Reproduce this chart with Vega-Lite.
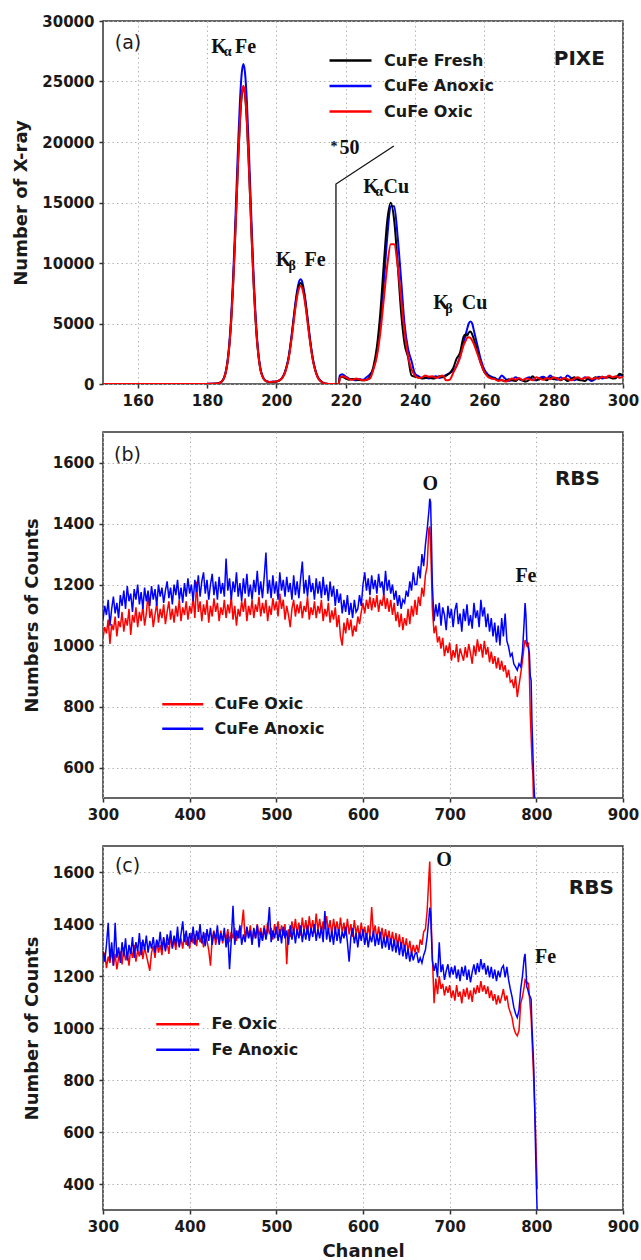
{
"$schema": "https://vega.github.io/schema/vega-lite/v6.json",
"background": "white",
"padding": {"left": 12, "top": 13, "right": 5, "bottom": 5},
"spacing": 48,
"bounds": "flush",
"config": {
  "font": "DejaVu Sans",
  "view": {"stroke": "#333", "strokeWidth": 1.5},
  "axis": {
    "labelFont": "DejaVu Sans", "labelFontWeight": "bold", "labelFontSize": 15, "labelColor": "#1a1a1a",
    "titleFont": "DejaVu Sans", "titleFontWeight": "bold", "titleFontSize": 18, "titleColor": "#1a1a1a",
    "domain": false, "tickSize": 4, "tickColor": "#333", "tickWidth": 1.5,
    "labelPadding": 5, "labelOverlap": false, "labelFlush": false,
    "grid": true, "gridColor": "#b5b5b5", "gridDash": [1.5, 3], "gridWidth": 1,
    "titlePadding": 11
  },
  "axisX": {"labelPadding": 5, "titlePadding": 8},
  "legend": {
    "labelFont": "DejaVu Sans", "labelFontWeight": "bold", "labelFontSize": 16, "labelColor": "#1a1a1a",
    "symbolStrokeWidth": 2.5, "padding": 0, "symbolType": "M-2,0H2"
  }
},
"resolve": {"scale": {"x": "independent", "y": "independent", "color": "independent"}, "legend": {"color": "independent"}},
"vconcat": [
{
  "width": 520, "height": 363,
  "encoding": {
    "x": {"field": "c", "type": "quantitative", "title": null, "scale": {"domain": [150, 300], "nice": false, "zero": false}, "axis": {"values": [160, 180, 200, 220, 240, 260, 280, 300], "format": "d"}},
    "y": {"field": "count", "type": "quantitative", "title": "Number of X-ray", "scale": {"domain": [0, 30000], "nice": false}, "axis": {"values": [0, 5000, 10000, 15000, 20000, 25000, 30000], "format": "d"}}
  },
  "layer": [
    {
      "data": {"values": [
{"c":150,"A":0,"F":0,"O":0},
{"c":160,"A":0,"F":0,"O":0},
{"c":170,"A":0,"F":0,"O":0},
{"c":176,"A":0,"F":0,"O":0},
{"c":180,"A":10,"F":10,"O":10},
{"c":182,"A":25,"F":30,"O":25},
{"c":183,"A":45,"F":42,"O":42},
{"c":183.5,"A":80,"F":74,"O":75},
{"c":184,"A":150,"F":140,"O":140},
{"c":184.5,"A":305,"F":282,"O":285},
{"c":185,"A":600,"F":560,"O":560},
{"c":185.5,"A":1160,"F":1080,"O":1080},
{"c":186,"A":2105,"F":1955,"O":1960},
{"c":186.5,"A":3580,"F":3320,"O":3335},
{"c":187,"A":5720,"F":5310,"O":5330},
{"c":187.5,"A":8590,"F":7970,"O":8005},
{"c":188,"A":12110,"F":11240,"O":11285},
{"c":188.5,"A":16040,"F":14890,"O":14950},
{"c":189,"A":19960,"F":18530,"O":18610},
{"c":189.5,"A":23340,"F":21660,"O":21750},
{"c":190,"A":25630,"F":23790,"O":23890},
{"c":190.5,"A":26450,"F":24550,"O":24650},
{"c":191,"A":25630,"F":23790,"O":23890},
{"c":191.5,"A":23340,"F":21660,"O":21750},
{"c":192,"A":19960,"F":18530,"O":18610},
{"c":192.5,"A":16040,"F":14890,"O":14950},
{"c":193,"A":12110,"F":11240,"O":11285},
{"c":193.5,"A":8590,"F":7970,"O":8005},
{"c":194,"A":5720,"F":5310,"O":5330},
{"c":194.5,"A":3580,"F":3320,"O":3335},
{"c":195,"A":2105,"F":1955,"O":1960},
{"c":195.5,"A":1160,"F":1080,"O":1080},
{"c":196,"A":680,"F":640,"O":640},
{"c":196.5,"A":395,"F":372,"O":375},
{"c":197,"A":255,"F":245,"O":245},
{"c":197.5,"A":200,"F":194,"O":195},
{"c":198,"A":175,"F":172,"O":172},
{"c":198.5,"A":178,"F":175,"O":175},
{"c":199,"A":185,"F":180,"O":180},
{"c":199.5,"A":195,"F":190,"O":190},
{"c":200,"A":214,"F":213,"O":212},
{"c":200.5,"A":252,"F":249,"O":247},
{"c":201,"A":326,"F":321,"O":317},
{"c":201.5,"A":450,"F":440,"O":432},
{"c":202,"A":670,"F":650,"O":635},
{"c":202.5,"A":1000,"F":970,"O":945},
{"c":203,"A":1510,"F":1460,"O":1420},
{"c":203.5,"A":2155,"F":2080,"O":2015},
{"c":204,"A":3115,"F":3005,"O":2915},
{"c":204.5,"A":4255,"F":4110,"O":3985},
{"c":205,"A":5490,"F":5300,"O":5145},
{"c":205.5,"A":6700,"F":6470,"O":6280},
{"c":206,"A":7720,"F":7455,"O":7235},
{"c":206.5,"A":8410,"F":8115,"O":7870},
{"c":207,"A":8650,"F":8350,"O":8100},
{"c":207.5,"A":8410,"F":8115,"O":7870},
{"c":208,"A":7720,"F":7455,"O":7235},
{"c":208.5,"A":6700,"F":6470,"O":6280},
{"c":209,"A":5490,"F":5300,"O":5145},
{"c":209.5,"A":4255,"F":4110,"O":3985},
{"c":210,"A":3115,"F":3005,"O":2915},
{"c":210.5,"A":2155,"F":2080,"O":2015},
{"c":211,"A":1450,"F":1400,"O":1360},
{"c":211.5,"A":920,"F":890,"O":860},
{"c":212,"A":560,"F":540,"O":520},
{"c":212.5,"A":340,"F":330,"O":320},
{"c":213,"A":200,"F":195,"O":190},
{"c":213.5,"A":95,"F":90,"O":87},
{"c":214,"A":45,"F":43,"O":40},
{"c":214.5,"A":20,"F":18,"O":18},
{"c":215,"A":9,"F":8,"O":8},
{"c":216,"A":2,"F":2,"O":2},
{"c":217,"A":0,"F":0,"O":0},
{"c":218,"A":0,"F":0,"O":0},
{"c":218.3,"A":700,"F":550,"O":450},
{"c":219,"A":800,"F":600,"O":650},
{"c":220,"A":620,"F":450,"O":550},
{"c":221,"A":450,"F":350,"O":400},
{"c":222,"A":380,"F":420,"O":350},
{"c":223,"A":300,"F":380,"O":450},
{"c":224,"A":420,"F":330,"O":380},
{"c":225,"A":350,"F":300,"O":300},
{"c":226,"A":550,"F":320,"O":350},
{"c":227,"A":800,"F":600,"O":450},
{"c":228,"A":1260,"F":1430,"O":1200},
{"c":229,"A":2510,"F":3060,"O":2280},
{"c":230,"A":4930,"F":5910,"O":4250},
{"c":231,"A":8340,"F":9910,"O":7010},
{"c":232,"A":12160,"F":13500,"O":9780},
{"c":233,"A":14700,"F":14970,"O":11555},
{"c":234,"A":14700,"F":13500,"O":11555},
{"c":235,"A":12160,"F":9910,"O":9780},
{"c":236,"A":8600,"F":5900,"O":7010},
{"c":237,"A":4900,"F":3300,"O":4250},
{"c":238,"A":2900,"F":2200,"O":2300},
{"c":239,"A":1900,"F":700,"O":1200},
{"c":240,"A":850,"F":600,"O":700},
{"c":241,"A":650,"F":550,"O":500},
{"c":242,"A":500,"F":450,"O":550},
{"c":243,"A":550,"F":500,"O":700},
{"c":244,"A":450,"F":550,"O":600},
{"c":245,"A":550,"F":450,"O":650},
{"c":246,"A":650,"F":500,"O":500},
{"c":247,"A":500,"F":650,"O":600},
{"c":248,"A":600,"F":550,"O":700},
{"c":249,"A":750,"F":700,"O":300},
{"c":250,"A":900,"F":900,"O":350},
{"c":251,"A":1100,"F":1300,"O":900},
{"c":252,"A":1500,"F":2100,"O":1500},
{"c":253,"A":2300,"F":2600,"O":2200},
{"c":254,"A":3400,"F":3900,"O":3200},
{"c":254.5,"A":3950,"F":4100,"O":3500},
{"c":255,"A":4500,"F":4000,"O":3800},
{"c":255.5,"A":5000,"F":4250,"O":3870},
{"c":256,"A":5170,"F":4340,"O":3800},
{"c":256.5,"A":5000,"F":4100,"O":3600},
{"c":257,"A":4400,"F":3700,"O":3300},
{"c":258,"A":3200,"F":2700,"O":2500},
{"c":259,"A":2000,"F":1700,"O":1700},
{"c":260,"A":1200,"F":1000,"O":1000},
{"c":261,"A":800,"F":700,"O":600},
{"c":262,"A":600,"F":500,"O":450},
{"c":263,"A":500,"F":450,"O":400},
{"c":264,"A":350,"F":300,"O":250},
{"c":265,"A":700,"F":300,"O":350},
{"c":266,"A":450,"F":250,"O":200},
{"c":267,"A":250,"F":400,"O":300},
{"c":268,"A":350,"F":300,"O":450},
{"c":269,"A":550,"F":250,"O":350},
{"c":270,"A":400,"F":450,"O":500},
{"c":271,"A":300,"F":300,"O":300},
{"c":272,"A":450,"F":200,"O":450},
{"c":273,"A":550,"F":350,"O":400},
{"c":274,"A":350,"F":650,"O":300},
{"c":275,"A":300,"F":300,"O":550},
{"c":276,"A":500,"F":400,"O":450},
{"c":277,"A":600,"F":450,"O":350},
{"c":278,"A":450,"F":300,"O":500},
{"c":279,"A":700,"F":500,"O":400},
{"c":280,"A":450,"F":400,"O":550},
{"c":281,"A":350,"F":500,"O":450},
{"c":282,"A":550,"F":300,"O":350},
{"c":283,"A":400,"F":450,"O":500},
{"c":284,"A":700,"F":250,"O":400},
{"c":285,"A":500,"F":400,"O":300},
{"c":286,"A":300,"F":550,"O":450},
{"c":287,"A":450,"F":350,"O":550},
{"c":288,"A":350,"F":300,"O":400},
{"c":289,"A":550,"F":250,"O":500},
{"c":290,"A":400,"F":450,"O":550},
{"c":291,"A":250,"F":350,"O":400},
{"c":292,"A":400,"F":550,"O":500},
{"c":293,"A":600,"F":450,"O":450},
{"c":294,"A":450,"F":600,"O":600},
{"c":295,"A":550,"F":500,"O":500},
{"c":296,"A":650,"F":550,"O":700},
{"c":297,"A":500,"F":450,"O":550},
{"c":298,"A":600,"F":500,"O":650},
{"c":299,"A":700,"F":850,"O":500},
{"c":300,"A":750,"F":700,"O":600}
      ]},
      "transform": [{"fold": ["A", "F", "O"], "as": ["series", "count"]}],
      "mark": {"type": "line", "strokeWidth": 2, "interpolate": "monotone", "clip": true},
      "encoding": {
        "color": {"field": "series", "type": "nominal", "title": null,
          "scale": {"domain": ["F", "A", "O"], "range": ["#000000", "#0000ff", "#ff0000"]},
          "legend": {"orient": "none", "legendX": 235.5, "legendY": 27.5, "symbolSize": 441, "labelOffset": 21.5, "rowPadding": 5.5,
            "labelExpr": "datum.label == 'F' ? 'CuFe Fresh' : datum.label == 'A' ? 'CuFe Anoxic' : 'CuFe Oxic'"}}
      }
    },
    {
      "data": {"values": [{"c": 217.2, "count": 0}, {"c": 217.2, "count": 16530}, {"c": 233.9, "count": 19670}]},
      "mark": {"type": "line", "color": "#111111", "strokeWidth": 1.3},
      "encoding": {"order": {"value": null}}
    },
    {
      "data": {"values": [
        {"c": 181.2, "count": 27380, "t": "K"}, {"c": 188.1, "count": 27380, "t": "Fe"},
        {"c": 199.8, "count": 9752, "t": "K"}, {"c": 208.1, "count": 9752, "t": "Fe"},
        {"c": 225.1, "count": 15810, "t": "K"}, {"c": 230.9, "count": 15810, "t": "Cu"},
        {"c": 245.3, "count": 6174, "t": "K"}, {"c": 253.5, "count": 6174, "t": "Cu"},
        {"c": 218.2, "count": 19033, "t": "50"}
      ]},
      "mark": {"type": "text", "font": "Liberation Serif", "fontWeight": "bold", "fontSize": 20, "align": "left", "baseline": "alphabetic", "color": "#111111"},
      "encoding": {"text": {"field": "t"}}
    },
    {
      "data": {"values": [
        {"c": 184.8, "count": 27110, "t": "α"},
        {"c": 203.5, "count": 9421, "t": "β"},
        {"c": 228.5, "count": 15537, "t": "α"},
        {"c": 248.7, "count": 5868, "t": "β"},
        {"c": 215.6, "count": 19256, "t": "*"}
      ]},
      "mark": {"type": "text", "font": "Liberation Serif", "fontWeight": "bold", "fontSize": 14, "align": "left", "baseline": "alphabetic", "color": "#111111"},
      "encoding": {"text": {"field": "t"}}
    },
    {
      "data": {"values": [{"c": 157.2, "count": 28180, "t": "(a)"}]},
      "mark": {"type": "text", "font": "DejaVu Sans", "fontSize": 19, "align": "center", "baseline": "middle", "color": "#1a1a1a"},
      "encoding": {"text": {"field": "t"}}
    },
    {
      "data": {"values": [{"c": 287.4, "count": 26860, "t": "PIXE"}]},
      "mark": {"type": "text", "font": "DejaVu Sans", "fontWeight": "bold", "fontSize": 20, "align": "center", "baseline": "middle", "color": "#1a1a1a"},
      "encoding": {"text": {"field": "t"}}
    }
  ]
},
{
  "width": 520, "height": 366,
  "encoding": {
    "x": {"field": "c", "type": "quantitative", "title": null, "scale": {"domain": [300, 900], "nice": false, "zero": false}, "axis": {"values": [300, 400, 500, 600, 700, 800, 900], "format": "d"}},
    "y": {"field": "count", "type": "quantitative", "title": "Numbers of Counts", "scale": {"domain": [500, 1700], "nice": false, "zero": false}, "axis": {"values": [600, 800, 1000, 1200, 1400, 1600], "format": "d"}}
  },
  "layer": [
    {
      "data": {"values": [
{"c":300,"O":1025,"A":1085},{"c":302,"O":1060,"A":1130},{"c":304,"O":1040,"A":1100},{"c":306,"O":1085,"A":1150},
{"c":308,"O":1005,"A":1065},{"c":310,"O":1070,"A":1120},{"c":312,"O":1050,"A":1160},{"c":314,"O":1095,"A":1105},
{"c":316,"O":1030,"A":1140},{"c":318,"O":1080,"A":1090},{"c":320,"O":1060,"A":1165},{"c":322,"O":1110,"A":1130},
{"c":324,"O":1045,"A":1180},{"c":326,"O":1090,"A":1120},{"c":328,"O":1065,"A":1195},{"c":330,"O":1120,"A":1145},
{"c":332,"O":1035,"A":1170},{"c":334,"O":1100,"A":1110},{"c":336,"O":1075,"A":1185},{"c":338,"O":1125,"A":1150},
{"c":340,"O":1060,"A":1200},{"c":342,"O":1110,"A":1135},{"c":344,"O":1080,"A":1175},{"c":346,"O":1130,"A":1120},
{"c":348,"O":1065,"A":1190},{"c":350,"O":1105,"A":1145},{"c":352,"O":1170,"A":1180},{"c":354,"O":1090,"A":1130},
{"c":356,"O":1120,"A":1195},{"c":358,"O":1060,"A":1150},{"c":360,"O":1100,"A":1185},{"c":362,"O":1140,"A":1130},
{"c":364,"O":1075,"A":1200},{"c":366,"O":1120,"A":1160},{"c":368,"O":1090,"A":1190},{"c":370,"O":1135,"A":1140},
{"c":372,"O":1070,"A":1180},{"c":374,"O":1110,"A":1210},{"c":376,"O":1145,"A":1155},{"c":378,"O":1085,"A":1190},
{"c":380,"O":1120,"A":1135},{"c":382,"O":1075,"A":1200},{"c":384,"O":1130,"A":1165},{"c":386,"O":1095,"A":1215},
{"c":388,"O":1150,"A":1150},{"c":390,"O":1080,"A":1190},{"c":392,"O":1125,"A":1140},{"c":394,"O":1100,"A":1205},
{"c":396,"O":1145,"A":1160},{"c":398,"O":1085,"A":1220},{"c":400,"O":1130,"A":1170},{"c":402,"O":1105,"A":1200},
{"c":404,"O":1160,"A":1145},{"c":406,"O":1090,"A":1215},{"c":408,"O":1210,"A":1175},{"c":410,"O":1110,"A":1230},
{"c":412,"O":1145,"A":1160},{"c":414,"O":1080,"A":1210},{"c":416,"O":1135,"A":1240},{"c":418,"O":1100,"A":1170},
{"c":420,"O":1150,"A":1215},{"c":422,"O":1075,"A":1150},{"c":424,"O":1130,"A":1200},{"c":426,"O":1095,"A":1235},
{"c":428,"O":1155,"A":1165},{"c":430,"O":1110,"A":1210},{"c":432,"O":1140,"A":1150},{"c":434,"O":1080,"A":1225},
{"c":436,"O":1125,"A":1170},{"c":438,"O":1100,"A":1205},{"c":440,"O":1150,"A":1160},{"c":442,"O":1090,"A":1285},
{"c":444,"O":1135,"A":1180},{"c":446,"O":1105,"A":1220},{"c":448,"O":1160,"A":1150},{"c":450,"O":1085,"A":1210},
{"c":452,"O":1130,"A":1175},{"c":454,"O":1065,"A":1240},{"c":456,"O":1120,"A":1160},{"c":458,"O":1095,"A":1205},
{"c":460,"O":1145,"A":1145},{"c":462,"O":1110,"A":1220},{"c":464,"O":1155,"A":1170},{"c":466,"O":1080,"A":1235},
{"c":468,"O":1130,"A":1160},{"c":470,"O":1100,"A":1200},{"c":472,"O":1150,"A":1150},{"c":474,"O":1090,"A":1215},
{"c":476,"O":1135,"A":1175},{"c":478,"O":1110,"A":1245},{"c":480,"O":1160,"A":1165},{"c":482,"O":1095,"A":1210},
{"c":484,"O":1140,"A":1155},{"c":486,"O":1105,"A":1225},{"c":488,"O":1150,"A":1305},{"c":490,"O":1080,"A":1170},
{"c":492,"O":1130,"A":1215},{"c":494,"O":1100,"A":1155},{"c":496,"O":1155,"A":1230},{"c":498,"O":1115,"A":1170},
{"c":500,"O":1145,"A":1210},{"c":502,"O":1095,"A":1150},{"c":504,"O":1170,"A":1240},{"c":506,"O":1120,"A":1180},
{"c":508,"O":1150,"A":1215},{"c":510,"O":1085,"A":1160},{"c":512,"O":1130,"A":1225},{"c":514,"O":1100,"A":1175},
{"c":516,"O":1060,"A":1205},{"c":518,"O":1120,"A":1150},{"c":520,"O":1150,"A":1230},{"c":522,"O":1095,"A":1165},
{"c":524,"O":1135,"A":1210},{"c":526,"O":1105,"A":1155},{"c":528,"O":1145,"A":1220},{"c":530,"O":1090,"A":1275},
{"c":532,"O":1130,"A":1170},{"c":534,"O":1110,"A":1215},{"c":536,"O":1160,"A":1160},{"c":538,"O":1085,"A":1230},
{"c":540,"O":1125,"A":1175},{"c":542,"O":1100,"A":1205},{"c":544,"O":1145,"A":1150},{"c":546,"O":1090,"A":1220},
{"c":548,"O":1130,"A":1170},{"c":550,"O":1105,"A":1210},{"c":552,"O":1150,"A":1155},{"c":554,"O":1080,"A":1225},
{"c":556,"O":1120,"A":1165},{"c":558,"O":1095,"A":1200},{"c":560,"O":1140,"A":1145},{"c":562,"O":1075,"A":1210},
{"c":564,"O":1115,"A":1160},{"c":566,"O":1085,"A":1195},{"c":568,"O":1125,"A":1130},{"c":570,"O":1060,"A":1185},
{"c":572,"O":1100,"A":1140},{"c":574,"O":1030,"A":1170},{"c":576,"O":1000,"A":1105},{"c":578,"O":1075,"A":1150},
{"c":580,"O":1040,"A":1110},{"c":582,"O":1090,"A":1165},{"c":584,"O":1050,"A":1100},{"c":586,"O":1085,"A":1140},
{"c":588,"O":1030,"A":1090},{"c":590,"O":1065,"A":1150},{"c":592,"O":1045,"A":1110},{"c":594,"O":1095,"A":1120},
{"c":596,"O":1070,"A":1165},{"c":598,"O":1110,"A":1130},{"c":600,"O":1140,"A":1200},{"c":602,"O":1105,"A":1240},
{"c":604,"O":1150,"A":1180},{"c":606,"O":1120,"A":1220},{"c":608,"O":1160,"A":1165},{"c":610,"O":1115,"A":1230},
{"c":612,"O":1155,"A":1185},{"c":614,"O":1125,"A":1215},{"c":616,"O":1165,"A":1170},{"c":618,"O":1110,"A":1235},
{"c":620,"O":1150,"A":1190},{"c":622,"O":1130,"A":1210},{"c":624,"O":1170,"A":1165},{"c":626,"O":1120,"A":1245},
{"c":628,"O":1155,"A":1180},{"c":630,"O":1110,"A":1215},{"c":632,"O":1150,"A":1170},{"c":634,"O":1100,"A":1200},
{"c":636,"O":1140,"A":1150},{"c":638,"O":1080,"A":1180},{"c":640,"O":1110,"A":1130},{"c":642,"O":1060,"A":1165},
{"c":644,"O":1105,"A":1120},{"c":646,"O":1050,"A":1150},{"c":648,"O":1090,"A":1140},{"c":650,"O":1065,"A":1180},
{"c":652,"O":1120,"A":1160},{"c":654,"O":1070,"A":1210},{"c":656,"O":1130,"A":1180},{"c":658,"O":1095,"A":1240},
{"c":660,"O":1150,"A":1200},{"c":662,"O":1100,"A":1200},{"c":664,"O":1160,"A":1260},{"c":666,"O":1130,"A":1220},
{"c":668,"O":1190,"A":1300},{"c":670,"O":1160,"A":1260},{"c":672,"O":1230,"A":1330},{"c":674,"O":1260,"A":1380},
{"c":676,"O":1382,"A":1440},{"c":677,"O":1390,"A":1481},{"c":678,"O":1330,"A":1470},{"c":679,"O":1230,"A":1350},
{"c":680,"O":1120,"A":1200},{"c":682,"O":1040,"A":1080},{"c":684,"O":1065,"A":1135},{"c":686,"O":1010,"A":1095},
{"c":688,"O":1030,"A":1140},{"c":690,"O":990,"A":1065},{"c":692,"O":1025,"A":1125},{"c":694,"O":965,"A":1100},
{"c":696,"O":1000,"A":1050},{"c":698,"O":975,"A":1130},{"c":700,"O":1010,"A":1090},{"c":702,"O":950,"A":1120},
{"c":704,"O":985,"A":1060},{"c":706,"O":960,"A":1115},{"c":708,"O":1005,"A":1140},{"c":710,"O":945,"A":1070},
{"c":712,"O":990,"A":1105},{"c":714,"O":970,"A":1045},{"c":716,"O":950,"A":1120},{"c":718,"O":995,"A":1080},
{"c":720,"O":960,"A":1135},{"c":722,"O":1005,"A":1065},{"c":724,"O":975,"A":1100},{"c":726,"O":940,"A":1055},
{"c":728,"O":1000,"A":1140},{"c":730,"O":965,"A":1090},{"c":732,"O":1020,"A":1115},{"c":734,"O":980,"A":1060},
{"c":736,"O":1005,"A":1150},{"c":738,"O":960,"A":1095},{"c":740,"O":1015,"A":1125},{"c":742,"O":970,"A":1060},
{"c":744,"O":995,"A":1105},{"c":746,"O":945,"A":1045},{"c":748,"O":980,"A":1090},{"c":750,"O":940,"A":1030},
{"c":752,"O":965,"A":1075},{"c":754,"O":925,"A":1010},{"c":756,"O":960,"A":1065},{"c":758,"O":920,"A":1000},
{"c":760,"O":950,"A":1090},{"c":762,"O":915,"A":1030},{"c":764,"O":935,"A":1105},{"c":766,"O":895,"A":1015},
{"c":768,"O":920,"A":995},{"c":770,"O":880,"A":965},{"c":772,"O":886,"A":974},{"c":774,"O":860,"A":940},
{"c":776,"O":900,"A":930},{"c":778,"O":831,"A":919},{"c":780,"O":870,"A":940},{"c":782,"O":908,"A":930},
{"c":784,"O":950,"A":980},{"c":786,"O":1000,"A":1080},{"c":787,"O":1018,"A":1139},{"c":788,"O":1010,"A":1100},
{"c":789,"O":1000,"A":1018},{"c":790,"O":1005,"A":1000},{"c":791,"O":1007,"A":990},{"c":792,"O":900,"A":974},
{"c":793,"O":776,"A":900},{"c":794,"O":700,"A":886},{"c":795,"O":620,"A":743},{"c":796,"O":577,"A":650},
{"c":797,"O":456,"A":560},{"c":798,"O":380,"A":500},{"c":799,"O":300,"A":420}
      ]},
      "transform": [{"fold": ["O", "A"], "as": ["series", "count"]}],
      "mark": {"type": "line", "strokeWidth": 1.5, "clip": true},
      "encoding": {
        "color": {"field": "series", "type": "nominal", "title": null,
          "scale": {"domain": ["O", "A"], "range": ["#ff0000", "#0000ff"]},
          "legend": {"orient": "none", "legendX": 68.25, "legendY": 260.7, "symbolSize": 420, "labelOffset": 20.25, "rowPadding": 4.5,
            "labelExpr": "datum.label == 'O' ? 'CuFe Oxic' : 'CuFe Anoxic'"}}
      }
    },
    {
      "data": {"values": [{"c": 677.5, "count": 1531, "t": "O"}, {"c": 788, "count": 1228, "t": "Fe"}]},
      "mark": {"type": "text", "font": "Liberation Serif", "fontWeight": "bold", "fontSize": 20, "align": "center", "baseline": "middle", "color": "#111111"},
      "encoding": {"text": {"field": "t"}}
    },
    {
      "data": {"values": [{"c": 328.3, "count": 1624, "t": "(b)"}]},
      "mark": {"type": "text", "font": "DejaVu Sans", "fontSize": 19, "align": "center", "baseline": "middle", "color": "#1a1a1a"},
      "encoding": {"text": {"field": "t"}}
    },
    {
      "data": {"values": [{"c": 847.5, "count": 1546, "t": "RBS"}]},
      "mark": {"type": "text", "font": "DejaVu Sans", "fontWeight": "bold", "fontSize": 20, "align": "center", "baseline": "middle", "color": "#1a1a1a"},
      "encoding": {"text": {"field": "t"}}
    }
  ]
},
{
  "width": 520, "height": 364,
  "encoding": {
    "x": {"field": "c", "type": "quantitative", "title": "Channel", "scale": {"domain": [300, 900], "nice": false, "zero": false}, "axis": {"values": [300, 400, 500, 600, 700, 800, 900], "format": "d"}},
    "y": {"field": "count", "type": "quantitative", "title": "Number of Counts", "scale": {"domain": [300, 1700], "nice": false, "zero": false}, "axis": {"values": [400, 600, 800, 1000, 1200, 1400, 1600], "format": "d"}}
  },
  "layer": [
    {
      "data": {"values": [
{"c":300,"O":1245,"A":1295},{"c":302,"O":1290,"A":1255},{"c":304,"O":1230,"A":1320},{"c":306,"O":1275,"A":1405},
{"c":308,"O":1250,"A":1260},{"c":310,"O":1300,"A":1330},{"c":312,"O":1240,"A":1240},{"c":314,"O":1285,"A":1405},
{"c":316,"O":1225,"A":1270},{"c":318,"O":1270,"A":1310},{"c":320,"O":1295,"A":1250},{"c":322,"O":1245,"A":1330},
{"c":324,"O":1310,"A":1275},{"c":326,"O":1260,"A":1345},{"c":328,"O":1290,"A":1260},{"c":330,"O":1240,"A":1320},
{"c":332,"O":1305,"A":1285},{"c":334,"O":1270,"A":1350},{"c":336,"O":1320,"A":1270},{"c":338,"O":1255,"A":1330},
{"c":340,"O":1300,"A":1295},{"c":342,"O":1275,"A":1365},{"c":344,"O":1330,"A":1280},{"c":346,"O":1265,"A":1340},
{"c":348,"O":1310,"A":1300},{"c":350,"O":1280,"A":1355},{"c":352,"O":1250,"A":1290},{"c":354,"O":1220,"A":1335},
{"c":356,"O":1290,"A":1305},{"c":358,"O":1315,"A":1350},{"c":360,"O":1270,"A":1290},{"c":362,"O":1335,"A":1340},
{"c":364,"O":1290,"A":1310},{"c":366,"O":1320,"A":1370},{"c":368,"O":1280,"A":1300},{"c":370,"O":1345,"A":1350},
{"c":372,"O":1300,"A":1295},{"c":374,"O":1330,"A":1360},{"c":376,"O":1285,"A":1320},{"c":378,"O":1350,"A":1375},
{"c":380,"O":1310,"A":1305},{"c":382,"O":1340,"A":1355},{"c":384,"O":1300,"A":1320},{"c":386,"O":1355,"A":1390},
{"c":388,"O":1315,"A":1310},{"c":390,"O":1345,"A":1360},{"c":392,"O":1305,"A":1410},{"c":394,"O":1360,"A":1330},
{"c":396,"O":1320,"A":1375},{"c":398,"O":1350,"A":1315},{"c":400,"O":1305,"A":1365},{"c":402,"O":1365,"A":1330},
{"c":404,"O":1325,"A":1390},{"c":406,"O":1360,"A":1320},{"c":408,"O":1315,"A":1375},{"c":410,"O":1370,"A":1340},
{"c":412,"O":1330,"A":1400},{"c":414,"O":1355,"A":1325},{"c":416,"O":1310,"A":1370},{"c":418,"O":1365,"A":1315},
{"c":420,"O":1335,"A":1380},{"c":422,"O":1300,"A":1335},{"c":424,"O":1240,"A":1385},{"c":426,"O":1345,"A":1320},
{"c":428,"O":1375,"A":1370},{"c":430,"O":1320,"A":1340},{"c":432,"O":1360,"A":1395},{"c":434,"O":1330,"A":1320},
{"c":436,"O":1375,"A":1365},{"c":438,"O":1325,"A":1335},{"c":440,"O":1365,"A":1385},{"c":442,"O":1340,"A":1310},
{"c":444,"O":1380,"A":1360},{"c":446,"O":1330,"A":1226},{"c":448,"O":1370,"A":1340},{"c":450,"O":1345,"A":1470},
{"c":452,"O":1385,"A":1320},{"c":454,"O":1335,"A":1375},{"c":456,"O":1375,"A":1345},{"c":458,"O":1345,"A":1395},
{"c":460,"O":1390,"A":1320},{"c":462,"O":1455,"A":1360},{"c":464,"O":1340,"A":1330},{"c":466,"O":1385,"A":1390},
{"c":468,"O":1350,"A":1345},{"c":470,"O":1395,"A":1375},{"c":472,"O":1330,"A":1320},{"c":474,"O":1380,"A":1385},
{"c":476,"O":1345,"A":1345},{"c":478,"O":1400,"A":1395},{"c":480,"O":1355,"A":1310},{"c":482,"O":1385,"A":1370},
{"c":484,"O":1340,"A":1335},{"c":486,"O":1395,"A":1385},{"c":488,"O":1350,"A":1340},{"c":490,"O":1405,"A":1380},
{"c":492,"O":1360,"A":1465},{"c":494,"O":1385,"A":1330},{"c":496,"O":1340,"A":1375},{"c":498,"O":1400,"A":1345},
{"c":500,"O":1360,"A":1390},{"c":502,"O":1410,"A":1335},{"c":504,"O":1350,"A":1380},{"c":506,"O":1395,"A":1325},
{"c":508,"O":1355,"A":1390},{"c":510,"O":1400,"A":1345},{"c":512,"O":1245,"A":1375},{"c":514,"O":1380,"A":1320},
{"c":516,"O":1350,"A":1395},{"c":518,"O":1410,"A":1340},{"c":520,"O":1365,"A":1385},{"c":522,"O":1420,"A":1325},
{"c":524,"O":1360,"A":1380},{"c":526,"O":1405,"A":1345},{"c":528,"O":1355,"A":1395},{"c":530,"O":1425,"A":1330},
{"c":532,"O":1370,"A":1380},{"c":534,"O":1415,"A":1340},{"c":536,"O":1360,"A":1395},{"c":538,"O":1430,"A":1335},
{"c":540,"O":1370,"A":1385},{"c":542,"O":1415,"A":1350},{"c":544,"O":1365,"A":1400},{"c":546,"O":1440,"A":1335},
{"c":548,"O":1375,"A":1380},{"c":550,"O":1420,"A":1345},{"c":552,"O":1365,"A":1390},{"c":554,"O":1410,"A":1330},
{"c":556,"O":1380,"A":1450},{"c":558,"O":1430,"A":1340},{"c":560,"O":1370,"A":1385},{"c":562,"O":1415,"A":1330},
{"c":564,"O":1360,"A":1375},{"c":566,"O":1420,"A":1320},{"c":568,"O":1375,"A":1390},{"c":570,"O":1410,"A":1335},
{"c":572,"O":1360,"A":1380},{"c":574,"O":1425,"A":1325},{"c":576,"O":1365,"A":1370},{"c":578,"O":1405,"A":1345},
{"c":580,"O":1355,"A":1390},{"c":582,"O":1420,"A":1330},{"c":584,"O":1360,"A":1255},{"c":586,"O":1400,"A":1350},
{"c":588,"O":1350,"A":1385},{"c":590,"O":1415,"A":1325},{"c":592,"O":1360,"A":1365},{"c":594,"O":1395,"A":1310},
{"c":596,"O":1345,"A":1370},{"c":598,"O":1405,"A":1335},{"c":600,"O":1355,"A":1380},{"c":602,"O":1390,"A":1320},
{"c":604,"O":1340,"A":1365},{"c":606,"O":1395,"A":1310},{"c":608,"O":1350,"A":1355},{"c":610,"O":1465,"A":1330},
{"c":612,"O":1360,"A":1375},{"c":614,"O":1395,"A":1315},{"c":616,"O":1340,"A":1360},{"c":618,"O":1390,"A":1320},
{"c":620,"O":1345,"A":1370},{"c":622,"O":1385,"A":1305},{"c":624,"O":1335,"A":1350},{"c":626,"O":1380,"A":1310},
{"c":628,"O":1330,"A":1355},{"c":630,"O":1375,"A":1300},{"c":632,"O":1325,"A":1345},{"c":634,"O":1370,"A":1295},
{"c":636,"O":1320,"A":1340},{"c":638,"O":1365,"A":1290},{"c":640,"O":1315,"A":1335},{"c":642,"O":1360,"A":1280},
{"c":644,"O":1305,"A":1330},{"c":646,"O":1350,"A":1275},{"c":648,"O":1300,"A":1320},{"c":650,"O":1345,"A":1265},
{"c":652,"O":1295,"A":1305},{"c":654,"O":1335,"A":1255},{"c":656,"O":1285,"A":1295},{"c":658,"O":1320,"A":1260},
{"c":660,"O":1290,"A":1285},{"c":662,"O":1320,"A":1290},{"c":664,"O":1290,"A":1250},{"c":666,"O":1340,"A":1270},
{"c":668,"O":1320,"A":1250},{"c":670,"O":1370,"A":1280},{"c":672,"O":1380,"A":1300},{"c":674,"O":1450,"A":1350},
{"c":676,"O":1580,"A":1420},{"c":677,"O":1640,"A":1463},{"c":678,"O":1520,"A":1440},{"c":679,"O":1380,"A":1350},
{"c":680,"O":1280,"A":1260},{"c":682,"O":1095,"A":1220},{"c":684,"O":1190,"A":1250},{"c":686,"O":1130,"A":1195},
{"c":688,"O":1200,"A":1330},{"c":690,"O":1150,"A":1215},{"c":692,"O":1170,"A":1245},{"c":694,"O":1125,"A":1185},
{"c":696,"O":1160,"A":1220},{"c":698,"O":1135,"A":1245},{"c":700,"O":1165,"A":1195},{"c":702,"O":1115,"A":1235},
{"c":704,"O":1145,"A":1205},{"c":706,"O":1105,"A":1240},{"c":708,"O":1165,"A":1190},{"c":710,"O":1120,"A":1225},
{"c":712,"O":1140,"A":1180},{"c":714,"O":1095,"A":1235},{"c":716,"O":1150,"A":1200},{"c":718,"O":1120,"A":1240},
{"c":720,"O":1155,"A":1185},{"c":722,"O":1110,"A":1225},{"c":724,"O":1145,"A":1175},{"c":726,"O":1100,"A":1215},
{"c":728,"O":1155,"A":1245},{"c":730,"O":1130,"A":1205},{"c":732,"O":1165,"A":1250},{"c":734,"O":1135,"A":1215},
{"c":736,"O":1180,"A":1265},{"c":738,"O":1140,"A":1225},{"c":740,"O":1165,"A":1250},{"c":742,"O":1130,"A":1205},
{"c":744,"O":1160,"A":1240},{"c":746,"O":1115,"A":1195},{"c":748,"O":1145,"A":1235},{"c":750,"O":1105,"A":1190},
{"c":752,"O":1130,"A":1225},{"c":754,"O":1090,"A":1180},{"c":756,"O":1125,"A":1220},{"c":758,"O":1095,"A":1195},
{"c":760,"O":1120,"A":1230},{"c":762,"O":1150,"A":1240},{"c":764,"O":1105,"A":1195},{"c":766,"O":1125,"A":1235},
{"c":768,"O":1080,"A":1185},{"c":770,"O":1060,"A":1150},{"c":772,"O":1040,"A":1120},{"c":774,"O":1000,"A":1080},
{"c":776,"O":980,"A":1056},{"c":778,"O":970,"A":1040},{"c":780,"O":990,"A":1070},{"c":782,"O":1095,"A":1150},
{"c":784,"O":1120,"A":1200},{"c":786,"O":1160,"A":1270},{"c":787,"O":1185,"A":1285},{"c":788,"O":1180,"A":1230},
{"c":789,"O":1170,"A":1158},{"c":790,"O":1175,"A":1150},{"c":791,"O":1170,"A":1135},{"c":792,"O":1120,"A":1125},
{"c":793,"O":1080,"A":1120},{"c":794,"O":1040,"A":1110},{"c":795,"O":960,"A":1000},{"c":796,"O":880,"A":930},
{"c":797,"O":800,"A":850},{"c":798,"O":700,"A":720},{"c":799,"O":612,"A":550},{"c":800,"O":500,"A":400},
{"c":801,"O":380,"A":290}
      ]},
      "transform": [{"fold": ["O", "A"], "as": ["series", "count"]}],
      "mark": {"type": "line", "strokeWidth": 1.5, "clip": true},
      "encoding": {
        "color": {"field": "series", "type": "nominal", "title": null,
          "scale": {"domain": ["O", "A"], "range": ["#ff0000", "#0000ff"]},
          "legend": {"orient": "none", "legendX": 62.75, "legendY": 166.3, "symbolSize": 462, "labelOffset": 21.75, "rowPadding": 5.5,
            "labelExpr": "datum.label == 'O' ? 'Fe Oxic' : 'Fe Anoxic'"}}
      }
    },
    {
      "data": {"values": [{"c": 693.6, "count": 1645, "t": "O"}, {"c": 810.6, "count": 1273, "t": "Fe"}]},
      "mark": {"type": "text", "font": "Liberation Serif", "fontWeight": "bold", "fontSize": 20, "align": "center", "baseline": "middle", "color": "#111111"},
      "encoding": {"text": {"field": "t"}}
    },
    {
      "data": {"values": [{"c": 328.3, "count": 1623, "t": "(c)"}]},
      "mark": {"type": "text", "font": "DejaVu Sans", "fontSize": 19, "align": "center", "baseline": "middle", "color": "#1a1a1a"},
      "encoding": {"text": {"field": "t"}}
    },
    {
      "data": {"values": [{"c": 863.4, "count": 1540, "t": "RBS"}]},
      "mark": {"type": "text", "font": "DejaVu Sans", "fontWeight": "bold", "fontSize": 20, "align": "center", "baseline": "middle", "color": "#1a1a1a"},
      "encoding": {"text": {"field": "t"}}
    }
  ]
}
]
}
